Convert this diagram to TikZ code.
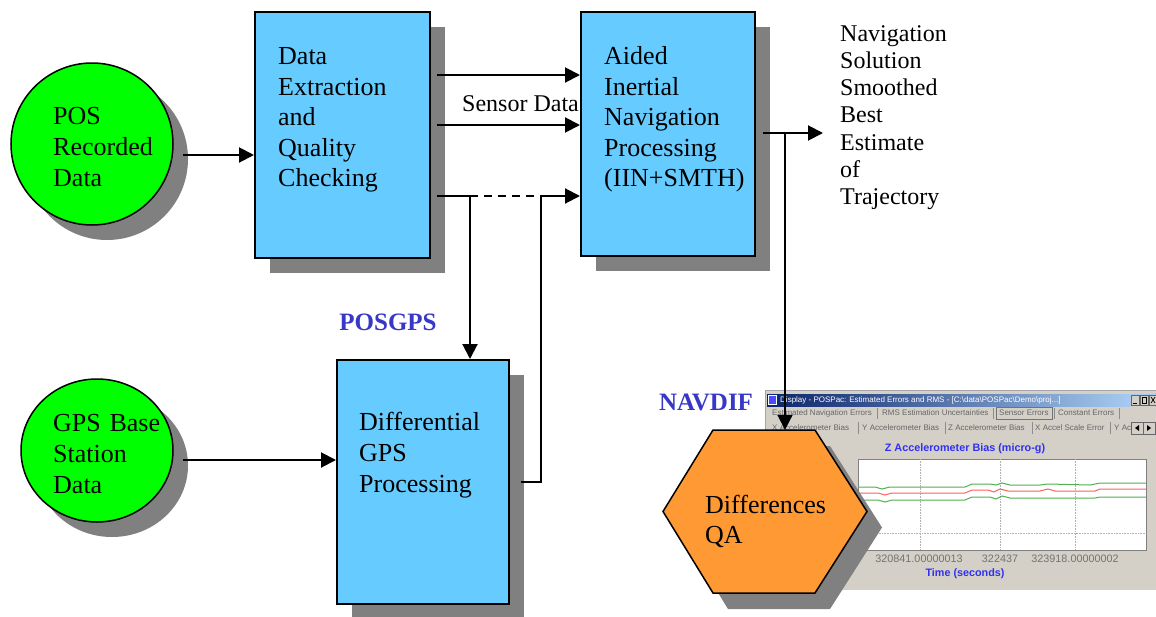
\documentclass[tikz,border=0pt]{standalone}
\usepackage{fontspec}
\setmainfont{Liberation Serif}
\newfontfamily\winfont{Liberation Sans}
\usetikzlibrary{arrows.meta,shadows,shapes.geometric,calc}
\definecolor{boxblue}{HTML}{66CCFF}
\definecolor{circgreen}{HTML}{00FF00}
\definecolor{hexorange}{HTML}{FF9933}
\definecolor{shadowgray}{HTML}{808080}
\definecolor{labelblue}{HTML}{3838C8}
\definecolor{wingray}{HTML}{D4D0C8}
\definecolor{titledark}{HTML}{0A246A}
\definecolor{titlelight}{HTML}{A6CAF0}
\definecolor{plotgreen}{HTML}{50B050}
\definecolor{plotred}{HTML}{FF6060}
\definecolor{plotblue}{HTML}{3030F0}
\newcommand{\hexshape}{(663,511.5) -- (713,430) -- (815,430) -- (867,511.5) -- (815,593) -- (713,593) -- cycle}
\begin{document}
\begin{tikzpicture}[x=1pt,y=-1pt,
  procbox/.style={draw=black,line width=2pt,fill=boxblue,inner sep=0pt,
    drop shadow={shadow xshift=15pt,shadow yshift=-15pt,fill=shadowgray,opacity=1}},
  srcell/.style={ellipse,draw=black,line width=1.5pt,fill=circgreen,inner sep=0pt,
    drop shadow={shadow xshift=15pt,shadow yshift=-15pt,fill=shadowgray,opacity=1}},
  bodytxt/.style={anchor=base west,inner sep=0pt,text width=220pt,align=left,
    font=\fontsize{26}{31}\selectfont},
  righttxt/.style={anchor=base west,inner sep=0pt,text width=200pt,align=left,
    font=\fontsize{24}{27.3}\selectfont},
  lbltxt/.style={inner sep=0pt,text=labelblue,font=\fontsize{25}{30}\selectfont\bfseries},
  arr/.style={line width=2pt,-{Triangle[length=15pt,width=15pt]}},
  conn/.style={line width=2pt},
  tabtxt/.style={anchor=west,inner sep=0pt,text=black!60,font=\winfont\fontsize{8}{9}\selectfont},
  axtxt/.style={inner sep=0pt,text=black!55,font=\winfont\fontsize{10.8}{12}\selectfont},
  plottxt/.style={inner sep=0pt,text=plotblue,font=\winfont\bfseries\fontsize{10.8}{12}\selectfont},
  tabsep/.style={draw=black!45,line width=0.7pt},
]
% background / bounding box
\fill[white] (0,0) rectangle (1156,616);
\useasboundingbox (0,0) rectangle (1156,616);

% ---------- screenshot window ----------
\fill[wingray] (765,390) rectangle (1160,590);
\draw[black!35,line width=0.6pt] (765,590) -- (765,390) -- (1160,390);
\shade[left color=titledark,right color=titlelight] (767,394) rectangle (1130,406);
\fill[white] (768,395) rectangle (777,405);
\fill[blue!70] (769,396) rectangle (776,404);
\node[tabtxt,text=white] (wtitle) at (780,400) {Display - POSPac: Estimated Errors and RMS - [C:\textbackslash data\textbackslash POSPac\textbackslash Demo\textbackslash proj...]};
\fill[titlelight] (1130,394) rectangle (1156,406);
\draw[black!60,fill=wingray,line width=0.5pt] (1131,395) rectangle (1139,405);
\draw[black!60,fill=wingray,line width=0.5pt] (1140,395) rectangle (1148,405);
\draw[black!60,fill=wingray,line width=0.5pt] (1149,395) rectangle (1157,405);
\draw[black,line width=0.8pt] (1133,403) -- (1137,403);
\draw[black,line width=0.6pt] (1142,397) rectangle (1146,403);
\draw[black,line width=0.7pt] (1151,397) -- (1155,403) (1151,403) -- (1155,397);
% tab row 1
\node[tabtxt] (wt1) at (772,413) {Estimated Navigation Errors};
\draw[tabsep] (877,408) -- (877,419);
\node[tabtxt] (wt2) at (882,413) {RMS Estimation Uncertainties};
\draw[tabsep] (993,408) -- (993,419);
\draw[black!55,line width=0.6pt] (996,407.5) rectangle (1052,419);
\node[tabtxt] (wt3) at (999,413) {Sensor Errors};
\draw[tabsep] (1054,408) -- (1054,419);
\node[tabtxt] (wt4) at (1058,413) {Constant Errors};
\draw[tabsep] (1119,408) -- (1119,419);
% tab row 2
\node[tabtxt] (wt5) at (772,428) {X Accelerometer Bias};
\draw[tabsep] (858,422) -- (858,434);
\node[tabtxt] (wt6) at (862,428) {Y Accelerometer Bias};
\draw[tabsep] (945,422) -- (945,434);
\node[tabtxt] (wt7) at (948,428) {Z Accelerometer Bias};
\draw[tabsep] (1032,422) -- (1032,434);
\node[tabtxt] (wt8) at (1035,428) {X Accel Scale Error};
\draw[tabsep] (1110,422) -- (1110,434);
\node[tabtxt] (wt9) at (1114,428) {Y Ac};
\draw[black!60,fill=wingray,line width=0.5pt] (1131,422) rectangle (1143,434);
\draw[black!60,fill=wingray,line width=0.5pt] (1143,422) rectangle (1155,434);
\fill[black] (1135,428) -- (1139,425) -- (1139,431) -- cycle;
\fill[black] (1151,428) -- (1147,425) -- (1147,431) -- cycle;
% plot
\node[plottxt] (wptitle) at (965,449) {Z Accelerometer Bias (micro-g)};
\fill[white] (858,459) rectangle (1146,550);
\draw[black!50,line width=0.8pt] (858,459) rectangle (1146,550);
\draw[black!30,densely dotted,line width=0.6pt] (920,459) -- (920,550) (1000,459) -- (1000,550) (1075,459) -- (1075,550) (858,533) -- (1146,533);
\draw[plotgreen,line width=1pt] (858,487) -- (875,487) -- (882,489) -- (890,487) -- (965,487) -- (972,484) -- (990,484) -- (996,485) -- (1002,483) -- (1010,485) -- (1040,485) -- (1048,484) -- (1090,485) -- (1100,483) -- (1146,483);
\draw[plotred,line width=1pt] (858,493) -- (878,493) -- (885,495) -- (892,493) -- (965,493) -- (972,490) -- (988,490) -- (994,492) -- (1000,489) -- (1008,491) -- (1040,491) -- (1048,489) -- (1055,491) -- (1095,491) -- (1100,489) -- (1146,489);
\draw[plotgreen,line width=1pt] (858,500) -- (878,500) -- (885,502) -- (892,500) -- (965,500) -- (972,497) -- (990,497) -- (996,499) -- (1002,496) -- (1010,498) -- (1095,498) -- (1100,497) -- (1146,497);
\node[axtxt] (wx1) at (919,559) {320841.00000013};
\node[axtxt] (wx2) at (1000,559) {322437};
\node[axtxt] (wx3) at (1075,559) {323918.00000002};
\node[plottxt] (wxl) at (965,574) {Time (seconds)};

% ---------- source ellipses ----------
\node[srcell,minimum width=162pt,minimum height=162pt] (c1) at (92,144) {};
\node[srcell,minimum width=152pt,minimum height=143pt] (c2) at (97,450.5) {};

% ---------- processing boxes ----------
\node[procbox,minimum width=175pt,minimum height=246pt] (b1) at (342.5,135) {};
\node[procbox,minimum width=174pt,minimum height=244pt] (b2) at (668,134) {};
\node[procbox,minimum width=172pt,minimum height=244pt] (b3) at (423,482) {};

% ---------- hexagon ----------
\fill[shadowgray,shift={(15,16)}] \hexshape;
\filldraw[fill=hexorange,draw=black,line width=1.5pt,line join=miter] \hexshape;
\node[minimum width=204pt,minimum height=163pt,inner sep=0pt] (hex) at (765,511.5) {};

% ---------- texts ----------
\node[bodytxt] (t1) at (53,124.5) {POS\\Recorded\\Data};
\node[bodytxt] (t2) at (53,431.5) {GPS Base\\Station\\Data};
\node[bodytxt,font=\fontsize{26}{30.5}\selectfont] (t3) at (278,64.5) {Data\\Extraction\\and\\Quality\\Checking};
\node[bodytxt,font=\fontsize{26}{30.5}\selectfont] (t4) at (604,64.5) {Aided\\Inertial\\Navigation\\Processing\\(IIN+SMTH)};
\node[bodytxt] (t5) at (359,430.5) {Differential\\GPS\\Processing};
\node[bodytxt,font=\fontsize{26}{30}\selectfont] (t6) at (705,513.5) {Differences\\QA};
\node[righttxt] (t7) at (840,41) {Navigation\\Solution\\Smoothed\\Best\\Estimate\\of\\Trajectory};
\node[anchor=base west,inner sep=0pt,font=\fontsize{24}{28}\selectfont] (t8) at (462,111) {Sensor Data};
\node[lbltxt] (l1) at (388,322) {POSGPS};
\node[lbltxt] (l2) at (706,402) {NAVDIF};

% ---------- connectors ----------
\coordinate (s1) at (183,155);
\coordinate (s2) at (183,460);
\coordinate (o1) at (437,75);
\coordinate (o2) at (437,125);
\coordinate (o3) at (437,196);
\coordinate (j1) at (470,196);
\coordinate (j2) at (541,196);
\coordinate (d1) at (521,482);
\coordinate (d2) at (541,482);
\coordinate (n1) at (763,133);
\coordinate (n2) at (823,133);
\coordinate (n3) at (785,133);

\draw[arr] (s1) -- (s1 -| b1.west);
\draw[arr] (s2) -- (s2 -| b3.west);
\draw[arr] (o1) -- (o1 -| b2.west);
\draw[arr] (o2) -- (o2 -| b2.west);
\draw[conn] (o3) -- (j1);
\draw[conn,dash pattern=on 8pt off 6pt] (j1) -- (j2);
\draw[arr] (j2) -- (j2 -| b2.west);
\draw[arr] (j1) -- (j1 |- b3.north);
\draw[conn] (d1) -- (d2) -- (j2);
\draw[arr] (n1) -- (n2);
\draw[arr] (n3) -- (n3 |- hex.north);
\end{tikzpicture}
\end{document}
